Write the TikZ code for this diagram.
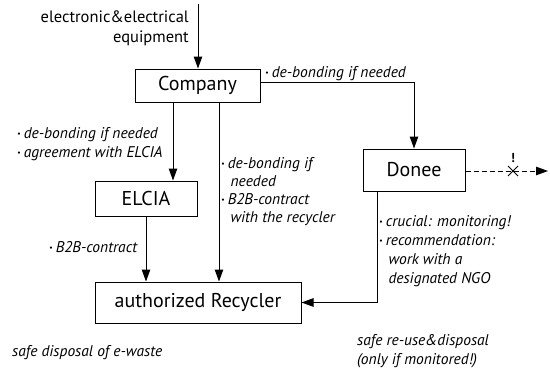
\documentclass[tikz,border=0pt]{standalone}
\usepackage{fontspec}
\setmainfont{PT Sans}
\usetikzlibrary{arrows.meta}
\newcommand{\bul}{\raisebox{.25ex}{\scalebox{.5}{\textbullet}}\hspace{.2em}}
\tikzset{
  box/.style={draw, line width=1pt, minimum width=#1, inner sep=0pt,
    font=\fontsize{20}{24}\selectfont},
  note/.style={anchor=base west, inner sep=0pt, align=left,
    font=\fontsize{15.5}{19}\selectfont\itshape},
  flow/.style={line width=1pt, -{Triangle[length=12pt,width=8.5pt]}}
}

\begin{document}
\begin{tikzpicture}[x=1pt,y=-1pt]
\useasboundingbox (0,0) rectangle (550,372);
% Boxes
\node[box=125pt, minimum height=33pt] (company) at (197.5,85.5) {Company};
\node[box=102pt, minimum height=35pt] (elcia) at (146,198.5) {ELCIA};
\node[box=102pt, minimum height=42pt] (donee) at (414,170) {Donee};
\node[box=206pt, minimum height=41pt] (recycler) at (198,302.5)
  {authorized Recycler};
% Input
\coordinate (input) at (198,4);
\node[anchor=base east, inner sep=0pt, align=right,
  font=\fontsize{16.5}{20}\selectfont] (goods) at (189,42)
  {electronic\&electrical\\equipment};
\draw[flow] (input) -- (input |- company.north);
% Company to the others
\coordinate (c1) at ([xshift=-24.5pt]company.south);
\coordinate (c2) at ([xshift=21.5pt]company.south);
\draw[flow] ([yshift=3.5pt]company.east) -| (donee.north);
\draw[flow] (c1) -- (c1 |- elcia.north);
\draw[flow] (c2) -- (c2 |- recycler.north);
% ELCIA and Donee to the recycler
\coordinate (c3) at ([xshift=-37pt]donee.south);
\draw[flow] (elcia.south) -- (elcia.south |- recycler.north);
\draw[flow] (c3) |- (recycler.east);
% Donee: no way out
\coordinate (gone) at (548,171);
\coordinate (block) at (513,171);
\draw[flow, dash pattern=on 5pt off 3pt] (donee.east |- gone) -- (gone);
\draw[line width=1pt] ([shift={(-5,-5)}]block) -- ([shift={(5,5)}]block)
  ([shift={(-5,5)}]block) -- ([shift={(5,-5)}]block);
\node[inner sep=0pt, font=\fontsize{13}{15}\selectfont\bfseries] (warn)
  at (513,158) {!};
% Labels
\node[note] (lbldonee) at (265,77) {\bul de-bonding if needed};
\node[note] (lblelcia) at (17,157)
  {\bul de-bonding if needed\\\bul agreement with ELCIA};
\node[note, font=\fontsize{15.5}{17.7}\selectfont\itshape] (lbldirect) at (221,222)
  {\bul de-bonding if\\\hspace{.6em}needed\\\bul B2B-contract\\\hspace{.6em}with the recycler};
\node[note] (lblcontract) at (49,252) {\bul B2B-contract};
\node[note] (lblmonitor) at (379,283)
  {\bul crucial: monitoring!\\\bul recommendation:\\\hspace{.6em}work with a\\\hspace{.6em}designated NGO};
% Results
\node[note] (reuse) at (357,364) {safe re-use\&disposal\\(only if monitored!)};
\node[note] (disposal) at (12,356) {safe disposal of e-waste};
\end{tikzpicture}
\end{document}
